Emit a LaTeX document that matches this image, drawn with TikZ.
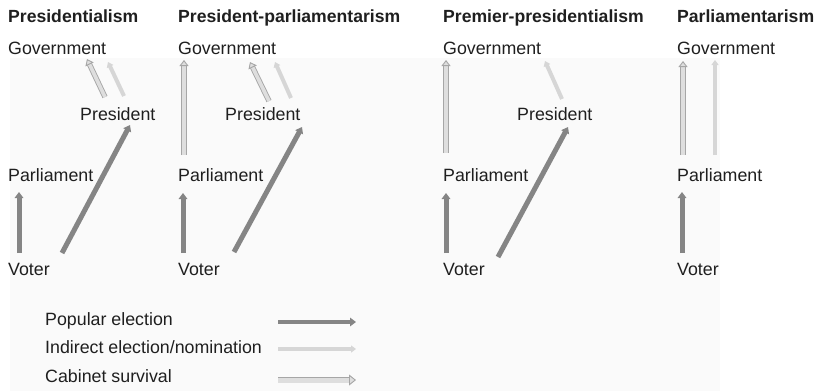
\documentclass[tikz,border=0pt]{standalone}
\usepackage{fontspec}
\setmainfont{Liberation Sans}
\usetikzlibrary{arrows.meta}
\definecolor{popc}{HTML}{858585}
\definecolor{indc}{HTML}{D6D6D6}
\definecolor{cabline}{HTML}{A6A6A6}
\definecolor{cabfill}{HTML}{DEDEDE}
\definecolor{panel}{HTML}{FAFAFA}
\tikzset{
  lbl/.style={anchor=base west, inner sep=0pt, font=\fontsize{17.8bp}{21bp}\selectfont, text=black!88},
  ttl/.style={lbl, font=\fontsize{17.6bp}{21bp}\selectfont\bfseries},
  pop/.style={draw=popc, line width=5bp, -{Triangle[length=6bp,width=8.5bp]}},
  ind/.style={draw=indc, line width=4bp, -{Triangle[length=5bp,width=7bp]}},
  cab/.style={draw=cabline, double=cabfill, line width=0.9bp, double distance=3.6bp, -{Triangle[length=6bp,width=9bp,fill=cabfill]}},
  cabl/.style={cab, double distance=5bp, -{Triangle[length=7bp,width=11bp,fill=cabfill]}},
}
\begin{document}
\begin{tikzpicture}[x=1bp,y=-1bp]
\useasboundingbox (0,0) rectangle (818,391);
\fill[white] (0,0) rectangle (818,391);
\fill[panel] (10,58) rectangle (720,391);
% titles
\node[ttl] (t1) at (8,22) {Presidentialism};
\node[ttl] (t2) at (178,22) {President-parliamentarism};
\node[ttl] (t3) at (443,22) {Premier-presidentialism};
\node[ttl] (t4) at (677,22) {Parliamentarism};
% labels
\node[lbl] (g1) at (8,54) {Government};
\node[lbl] (g2) at (178,54) {Government};
\node[lbl] (g3) at (443,54) {Government};
\node[lbl] (g4) at (677,54) {Government};
\node[lbl] (pr1) at (80,120) {President};
\node[lbl] (pr2) at (225,120) {President};
\node[lbl] (pr3) at (517,120) {President};
\node[lbl] (pa1) at (8,181) {Parliament};
\node[lbl] (pa2) at (178,181) {Parliament};
\node[lbl] (pa3) at (443,181) {Parliament};
\node[lbl] (pa4) at (677,181) {Parliament};
\node[lbl] (v1) at (8,275) {Voter};
\node[lbl] (v2) at (178,275) {Voter};
\node[lbl] (v3) at (443,275) {Voter};
\node[lbl] (v4) at (677,275) {Voter};
% column 1
\coordinate (a1s) at (19,253); \coordinate (a1e) at (19,192);
\coordinate (b1s) at (62,253); \coordinate (b1e) at (130,125);
\coordinate (c1s) at (105,97); \coordinate (c1e) at (87,59);
\coordinate (d1s) at (124,96); \coordinate (d1e) at (108,62);
\draw[pop] (a1s) -- (a1e);
\draw[pop] (b1s) -- (b1e);
\draw[cab] (c1s) -- (c1e);
\draw[ind] (d1s) -- (d1e);
% column 2
\coordinate (a2s) at (183,253); \coordinate (a2e) at (183,193);
\coordinate (b2s) at (234,252); \coordinate (b2e) at (302,127);
\coordinate (e2s) at (184,155); \coordinate (e2e) at (184,60);
\coordinate (c2s) at (269,101); \coordinate (c2e) at (250,62);
\coordinate (d2s) at (291,98); \coordinate (d2e) at (275,62);
\draw[pop] (a2s) -- (a2e);
\draw[pop] (b2s) -- (b2e);
\draw[cab] (e2s) -- (e2e);
\draw[cab] (c2s) -- (c2e);
\draw[ind] (d2s) -- (d2e);
% column 3
\coordinate (a3s) at (446,253); \coordinate (a3e) at (446,193);
\coordinate (b3s) at (498,257); \coordinate (b3e) at (568,127);
\coordinate (e3s) at (446,153); \coordinate (e3e) at (446,60);
\coordinate (d3s) at (562,99); \coordinate (d3e) at (545,61);
\draw[pop] (a3s) -- (a3e);
\draw[pop] (b3s) -- (b3e);
\draw[cab] (e3s) -- (e3e);
\draw[ind] (d3s) -- (d3e);
% column 4
\coordinate (a4s) at (682,253); \coordinate (a4e) at (682,192);
\coordinate (e4s) at (683,155); \coordinate (e4e) at (683,61);
\coordinate (d4s) at (715,155); \coordinate (d4e) at (715,60);
\draw[pop] (a4s) -- (a4e);
\draw[cab] (e4s) -- (e4e);
\draw[ind] (d4s) -- (d4e);
% legend
\node[lbl] (l1) at (45,325) {Popular election};
\node[lbl] (l2) at (45,353) {Indirect election/nomination};
\node[lbl] (l3) at (45,382) {Cabinet survival};
\coordinate (k1s) at (278,322); \coordinate (k1e) at (356,322);
\coordinate (k2s) at (278,349); \coordinate (k2e) at (356,349);
\coordinate (k3s) at (278,380); \coordinate (k3e) at (356,380);
\draw[pop, line width=4bp] (k1s) -- (k1e);
\draw[ind] (k2s) -- (k2e);
\draw[cabl] (k3s) -- (k3e);
\end{tikzpicture}
\end{document}
